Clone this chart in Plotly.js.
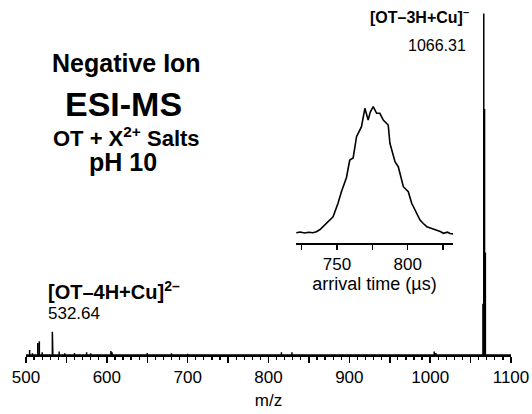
<!DOCTYPE html>
<html>
<head>
<meta charset="utf-8">
<script src="https://cdn.plot.ly/plotly-3.0.1.min.js"></script>
<style>html,body{margin:0;padding:0;background:#fff;}#chart{width:532px;height:414px;}</style>
</head>
<body>
<div id="chart"></div>
<script>
// ---- main spectrum (stick peaks): m/z and relative intensity (%) ----
const peakMz = [504.5, 508, 514.5, 516.5, 520, 532.6, 533.2, 541, 548, 560, 575, 580, 605, 606.5, 650, 680, 700, 816, 829, 1005, 1007,
                1065.3, 1066.3, 1067.3, 1068.3];
const peakInt = [1.5, 0.5, 3.5, 4.0, 0.8, 6.8, 3.0, 1.0, 0.5, 0.6, 0.8, 0.5, 1.2, 0.8, 0.6, 0.5, 0.4, 0.8, 0.8, 1.0, 0.6,
                 15, 100, 72, 30];

// ---- inset: arrival time distribution ----
const arrTime = [721.2, 724, 727, 730, 733, 735.4, 738, 740.1, 742.5, 744.8, 747.2, 750.7, 753.1, 756.7, 759, 761.4, 763.8, 767.3, 769.7, 772, 773.5, 775.6, 778, 780.3, 782.7, 786.2, 787.4, 791, 793.3, 796.9, 800.4, 802.8, 806.4, 808.7, 811, 813.5, 816, 818, 820.6, 823, 825.3, 828, 830, 832.4];
const arrInt  = [0.3, 1.0, 0.0, 0.8, 0.2, 1.3, 3.5, 6.3, 9.5, 13, 16.3, 29.7, 41.3, 55.5, 73, 75, 96.3, 106.3, 124.7, 113, 121, 126.3, 119.7, 119.7, 113, 108, 89.7, 71.3, 66.3, 46.3, 41.3, 29.7, 19.7, 13, 9.5, 6.3, 5.0, 4.0, 3.0, 1.5, -0.3, 0.8, -0.5, -1];

// ---- axis tick labels ----
const mainTickVals = [500, 550, 600, 650, 700, 750, 800, 850, 900, 950, 1000, 1050, 1100];
const mainTickText = ['500', '', '600', '', '700', '', '800', '', '900', '', '1000', '', '1100'];
const insetTickVals = [725, 750, 775, 800, 825];
const insetTickText = ['', '750', '', '800', ''];

// build stick line from peak list
const sx = [500], sy = [0];
peakMz.forEach((m, i) => { sx.push(m, m, m); sy.push(0, peakInt[i], 0); });
sx.push(1100); sy.push(0);

// plot area geometry (pixels)
const L = 26, R = 511, T = 10, B = 355;
const px = x => (x - L) / (R - L);
const py = y => (B - y) / (B - T);

const FONT = 'Liberation Sans, Arial, Helvetica, sans-serif';

const traces = [
  {x: sx, y: sy, type: 'scatter', mode: 'lines', line: {color: '#000', width: 1.5}, xaxis: 'x', yaxis: 'y', hoverinfo: 'skip'},
  {x: arrTime, y: arrInt, type: 'scatter', mode: 'lines', line: {color: '#000', width: 1.6}, xaxis: 'x2', yaxis: 'y2', hoverinfo: 'skip'}
];

const ann = (x, y, text, size, bold, xanchor) => ({
  xref: 'paper', yref: 'paper', x: px(x), y: py(y), text: bold ? '<b>' + text + '</b>' : text,
  showarrow: false, xanchor: xanchor || 'center', yanchor: 'middle',
  font: {family: FONT, size: size, color: '#000'}
});

const layout = {
  width: 532, height: 414,
  margin: {l: L, r: 532 - R, t: T, b: 414 - B},
  paper_bgcolor: '#fff', plot_bgcolor: '#fff',
  showlegend: false,
  font: {family: FONT, color: '#000'},
  xaxis: {
    range: [500, 1100], showgrid: false, zeroline: false,
    showline: true, linecolor: '#000', linewidth: 2,
    tickmode: 'array', tickvals: mainTickVals, ticktext: mainTickText,
    ticks: 'outside', ticklen: 6, tickwidth: 1.5, tickcolor: '#000',
    minor: {dtick: 10, tick0: 500, ticks: 'outside', ticklen: 3, tickwidth: 1.2, tickcolor: '#000', showgrid: false},
    tickfont: {size: 17, family: FONT, color: '#000'},
    title: {text: 'm/z', font: {size: 17, family: FONT, color: '#000'}, standoff: 8}
  },
  yaxis: {range: [0, 101], visible: false, fixedrange: true},
  xaxis2: {
    domain: [px(296), px(453)], anchor: 'y2', range: [721, 832],
    showgrid: false, zeroline: false, showline: true, linecolor: '#000', linewidth: 1.5,
    tickmode: 'array', tickvals: insetTickVals, ticktext: insetTickText,
    ticks: 'outside', ticklen: 5, tickwidth: 1.5, tickcolor: '#000',
    tickfont: {size: 17, family: FONT, color: '#000'},
    title: {text: 'arrival time (µs)', font: {size: 18, family: FONT, color: '#000'}, standoff: 1}
  },
  yaxis2: {domain: [py(243), py(103)], anchor: 'x2', range: [-10, 130], visible: false},
  annotations: [
    ann(126.7, 63, 'Negative Ion', 25, true),
    ann(123.5, 104, 'ESI-MS', 34, true),
    ann(126.7, 137, 'OT + X<sup>2+</sup> Salts', 22, true),
    ann(123, 162, 'pH 10', 25, true),
    ann(471, 16, '[OT–3H+Cu]<sup>–</sup>', 16, true, 'right'),
    ann(468, 45, '1066.31', 16, false, 'right'),
    ann(46, 290, '[OT–4H+Cu]<sup>2–</sup>', 20, true, 'left'),
    ann(46, 313, '532.64', 17, false, 'left')
  ]
};

Plotly.newPlot('chart', traces, layout, {staticPlot: true, displayModeBar: false});
</script>
</body>
</html>
